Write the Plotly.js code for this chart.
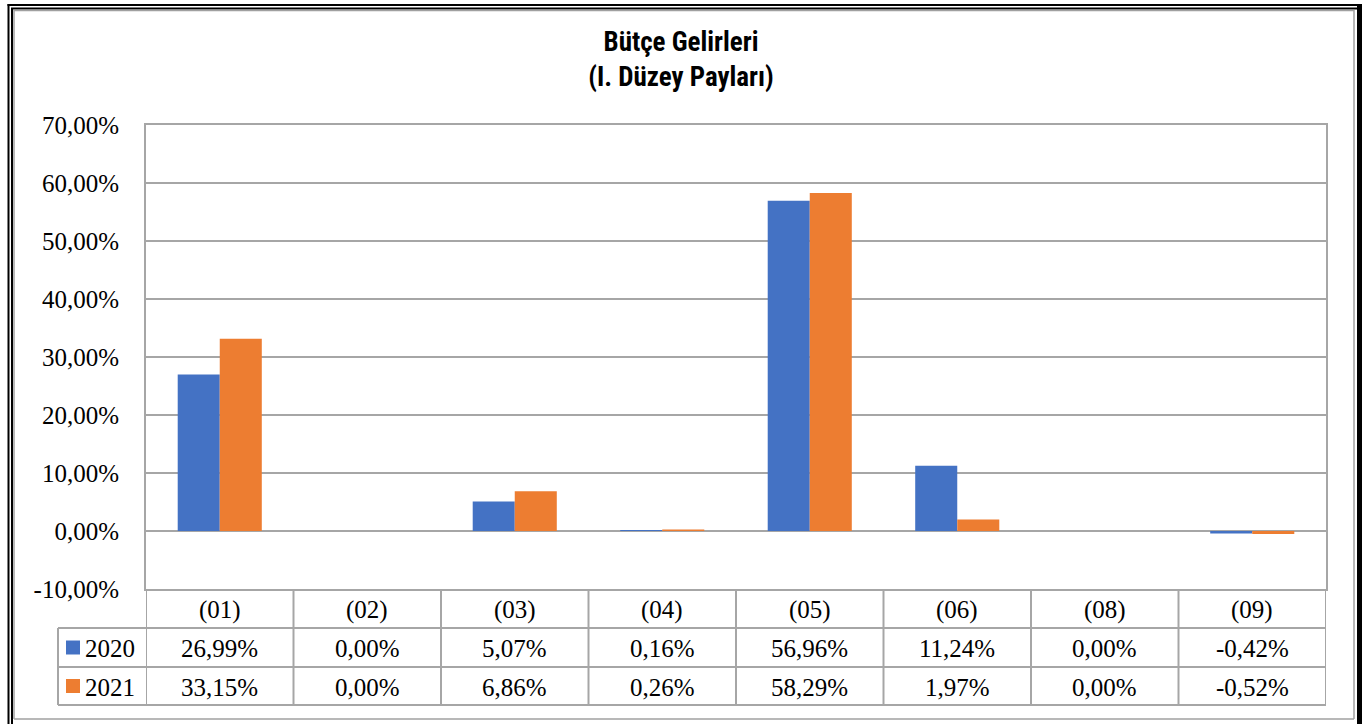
<!DOCTYPE html>
<html><head><meta charset="utf-8">
<script src="https://cdn.plot.ly/plotly-3.0.1.min.js"></script>
<style>html,body{margin:0;padding:0;background:#fff;overflow:hidden}#chart{width:1362px;height:724px}</style>
</head><body><div id="chart"></div>
<script>
// ---- data ----
const categories = ['(01)','(02)','(03)','(04)','(05)','(06)','(08)','(09)'];
const seriesNames = ['2020','2021'];
const values2020 = [26.99, 0.00, 5.07, 0.16, 56.96, 11.24, 0.00, -0.42];
const values2021 = [33.15, 0.00, 6.86, 0.26, 58.29, 1.97, 0.00, -0.52];
const seriesColors = ['#4472C4', '#ED7D31'];
const yTickVals = [-10, 0, 10, 20, 30, 40, 50, 60, 70];
const titleLines = ['Bütçe Gelirleri', '(I. Düzey Payları)'];

// ---- geometry (pixels) ----
const W = 1362, H = 724;
const PL = 146, PR = 1326, PT = 125, PB = 589;
const rowLines = [628, 667, 705];
const legendLeft = 58;
const px = v => (v - PL) / (PR - PL);
const py = v => (PB - v) / (PB - PT);

const fmt = v => v.toFixed(2).replace('.', ',') + '%';
const serif = '"Liberation Serif", "Times New Roman", serif';
const txtSize = 25;
const gridCol = '#a6a6a6';

const allSeries = [values2020, values2021];
const traces = allSeries.map((vals, i) => ({
  type: 'bar', x: categories, y: vals, name: seriesNames[i],
  marker: {color: seriesColors[i], line: {width: 0}},
  hoverinfo: 'x+y'
}));

const shapes = [];
const annotations = [];

// table horizontal lines
rowLines.forEach(r => shapes.push({type:'line', xref:'paper', yref:'paper', x0:px(legendLeft), x1:1, y0:py(r), y1:py(r), line:{color:gridCol, width:2}}));
// legend column left edge
shapes.push({type:'line', xref:'paper', yref:'paper', x0:px(legendLeft), x1:px(legendLeft), y0:py(rowLines[0]), y1:py(rowLines[2]), line:{color:gridCol, width:2}});
// category separators (through the table)
for (let i = 0; i <= categories.length; i++) {
  shapes.push({type:'line', xref:'x', yref:'paper', x0:i-0.5, x1:i-0.5, y0:0, y1:py(rowLines[2]), line:{color:gridCol, width:2}});
}
// header labels and values
const rowCenters = [(PB + rowLines[0]) / 2 + 1, (rowLines[0] + rowLines[1]) / 2 + 1, (rowLines[1] + rowLines[2]) / 2 + 1];
categories.forEach((c, i) => {
  annotations.push({xref:'x', yref:'paper', x:c, y:py(rowCenters[0]), text:c, showarrow:false, font:{family:serif, size:txtSize, color:'#000'}, yanchor:'middle'});
  allSeries.forEach((vals, s) => {
    annotations.push({xref:'x', yref:'paper', x:c, y:py(rowCenters[s+1]), text:fmt(vals[i]), showarrow:false, font:{family:serif, size:txtSize, color:'#000'}, yanchor:'middle'});
  });
});
// legend keys
seriesNames.forEach((n, s) => {
  const cy = rowCenters[s+1] - 1;
  shapes.push({type:'rect', xref:'paper', yref:'paper', x0:px(66), x1:px(80), y0:py(cy+7), y1:py(cy-7), fillcolor:seriesColors[s], line:{width:0}});
  annotations.push({xref:'paper', yref:'paper', x:px(83), y:py(cy+1), text:n, showarrow:false, xanchor:'left', yanchor:'middle', font:{family:serif, size:txtSize, color:'#000'}});
});
// outer frame
shapes.push({type:'line', xref:'paper', yref:'paper', x0:px(8.5), x1:px(8.5), y0:py(4), y1:py(724), line:{color:'#000', width:2}});
shapes.push({type:'line', xref:'paper', yref:'paper', x0:px(7.5), x1:px(1362), y0:py(5), y1:py(5), line:{color:'#000', width:2}});
shapes.push({type:'line', xref:'paper', yref:'paper', x0:px(12), x1:px(12), y0:py(8), y1:py(724), line:{color:'#000', width:2}});
shapes.push({type:'line', xref:'paper', yref:'paper', x0:px(11), x1:px(1357), y0:py(8.5), y1:py(8.5), line:{color:'#000', width:2}});
shapes.push({type:'line', xref:'paper', yref:'paper', x0:px(1359.5), x1:px(1359.5), y0:py(4), y1:py(724), line:{color:'#000', width:5}});
shapes.push({type:'line', xref:'paper', yref:'paper', x0:px(14), x1:px(14), y0:py(10), y1:py(719), line:{color:'#a0a0a0', width:1.5}});
shapes.push({type:'line', xref:'paper', yref:'paper', x0:px(14), x1:px(1354), y0:py(10.5), y1:py(10.5), line:{color:'#a0a0a0', width:1.5}});
shapes.push({type:'line', xref:'paper', yref:'paper', x0:px(1354), x1:px(1354), y0:py(10), y1:py(719), line:{color:'#a0a0a0', width:1.5}});
shapes.push({type:'line', xref:'paper', yref:'paper', x0:px(14), x1:px(1354), y0:py(719), y1:py(719), line:{color:'#a0a0a0', width:1.5}});

const layout = {
  width: W, height: H,
  margin: {l: PL, r: W - PR, t: PT, b: H - PB, pad: 0},
  paper_bgcolor: '#fff', plot_bgcolor: '#fff',
  showlegend: false,
  bargap: 0.43, bargroupgap: 0,
  title: {
    text: '<b>' + titleLines.join('<br>') + '</b>',
    x: 0.5, xref: 'container', xanchor: 'center',
    y: 1 - 51 / H, yref: 'container', yanchor: 'top',
    font: {family: '"Roboto Condensed", "DejaVu Sans Condensed", sans-serif', size: 27, color: '#000'}
  },
  xaxis: {
    type: 'category', showticklabels: false, ticks: '', showgrid: false,
    showline: true, linecolor: gridCol, linewidth: 2, mirror: true,
    range: [-0.5, categories.length - 0.5], fixedrange: true
  },
  yaxis: {
    range: [-10, 70], tickvals: yTickVals, ticktext: yTickVals.map(fmt),
    showgrid: true, gridcolor: gridCol, gridwidth: 1.3,
    zeroline: true, zerolinecolor: gridCol, zerolinewidth: 1.3,
    showline: true, linecolor: gridCol, linewidth: 2, mirror: true,
    ticks: '', ticklabelstandoff: 20,
    tickfont: {family: serif, size: txtSize, color: '#000'}, fixedrange: true
  },
  shapes: shapes,
  annotations: annotations
};

Plotly.newPlot('chart', traces, layout, {displayModeBar: false, staticPlot: true});
</script>
</body></html>
